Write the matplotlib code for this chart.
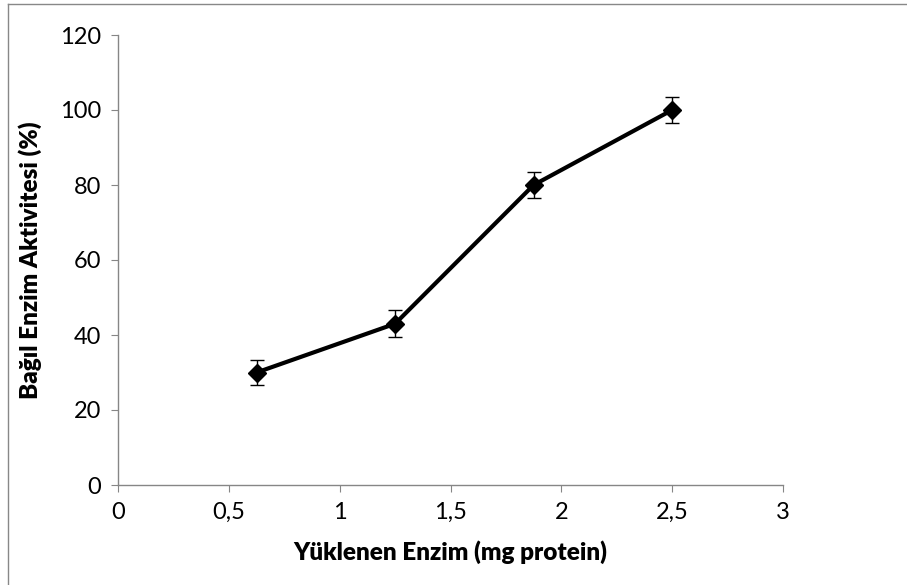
import matplotlib
matplotlib.use("Agg")
import matplotlib.pyplot as plt
from matplotlib.lines import Line2D

x_vals = [0.625, 1.25, 1.875, 2.5]
y_vals = [30, 43, 80, 100]
y_err = [3.3, 3.6, 3.4, 3.5]
x_ticks = [0, 0.5, 1, 1.5, 2, 2.5, 3]
x_tick_labels = ["0", "0,5", "1", "1,5", "2", "2,5", "3"]
y_ticks = [0, 20, 40, 60, 80, 100, 120]
x_label = "Yüklenen Enzim (mg protein)"
y_label = "Bağıl Enzim Aktivitesi (%)"

plt.rcParams['font.family'] = ['Lato', 'DejaVu Sans']

W, H = 907, 585
fig = plt.figure(figsize=(W / 100, H / 100), dpi=100)
ax = fig.add_axes([118 / W, 1 - 485 / H, (783 - 118) / W, (485 - 35) / H])

ax.errorbar(x_vals, y_vals, yerr=y_err, color='black', lw=3, marker='D', ms=9,
            ecolor='black', elinewidth=1, capsize=5, capthick=1)

ax.set_xlim(0, 3)
ax.set_ylim(0, 120)
ax.set_xticks(x_ticks)
ax.set_xticklabels(x_tick_labels)
ax.set_yticks(y_ticks)
for s in ['top', 'right']:
    ax.spines[s].set_visible(False)
for s in ['left', 'bottom']:
    ax.spines[s].set_color('#868686')
    ax.spines[s].set_linewidth(1)
ax.tick_params(direction='out', length=5, color='#868686', labelsize=17, pad=7)
ax.set_xlabel(x_label, fontsize=17.5, fontweight='heavy', labelpad=13)
ax.set_ylabel(y_label, fontsize=17.5, fontweight='heavy', labelpad=13)

# figure border (partially cropped)
fig.add_artist(Line2D([8 / W, 8 / W], [0, 1 - 4 / H], transform=fig.transFigure, color='#888888', lw=1))
fig.add_artist(Line2D([8 / W, 1], [1 - 4 / H, 1 - 4 / H], transform=fig.transFigure, color='#888888', lw=1))

fig.savefig("out.png", dpi=100)
